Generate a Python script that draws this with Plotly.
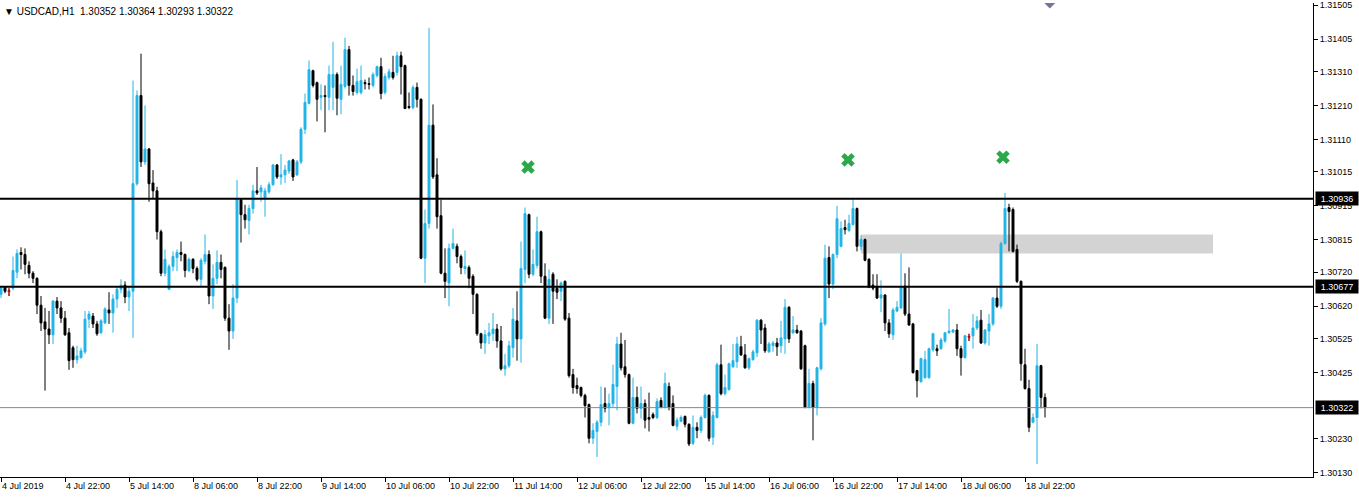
import plotly.graph_objects as go

# ---------------- data (USDCAD H1) ----------------
opens = [
    1.30655, 1.30676, 1.30664, 1.30673, 1.30720, 1.30778, 1.30772, 1.30740, 1.30717, 1.30702,
    1.30623, 1.30574, 1.30553, 1.30536, 1.30635, 1.30615, 1.30585, 1.30542, 1.30498, 1.30463,
    1.30469, 1.30486, 1.30582, 1.30591, 1.30568, 1.30542, 1.30571, 1.30609, 1.30600, 1.30641,
    1.30670, 1.30682, 1.30647, 1.30664, 1.30980, 1.31239, 1.31044, 1.31082, 1.30982, 1.30959,
    1.30839, 1.30717, 1.30670, 1.30737, 1.30763, 1.30778, 1.30772, 1.30725, 1.30758, 1.30731,
    1.30699, 1.30752, 1.30772, 1.30650, 1.30702, 1.30749, 1.30734, 1.30585, 1.30547, 1.30644,
    1.30933, 1.30889, 1.30872, 1.30907, 1.30959, 1.30956, 1.30936, 1.30956, 1.30977, 1.31035,
    1.31000, 1.31006, 1.31017, 1.31050, 1.31006, 1.31044, 1.31140, 1.31216, 1.31312, 1.31277,
    1.31234, 1.31239, 1.31234, 1.31263, 1.31301, 1.31228, 1.31266, 1.31374, 1.31269, 1.31248,
    1.31248, 1.31277, 1.31274, 1.31269, 1.31298, 1.31324, 1.31248, 1.31292, 1.31307, 1.31307,
    1.31356, 1.31327, 1.31207, 1.31204, 1.31263, 1.31228, 1.30761, 1.30863, 1.31152, 1.31006,
    1.30886, 1.30717, 1.30688, 1.30790, 1.30796, 1.30766, 1.30731, 1.30734, 1.30708, 1.30655,
    1.30539, 1.30512, 1.30533, 1.30539, 1.30553, 1.30518, 1.30436, 1.30445, 1.30498, 1.30577,
    1.30524, 1.30728, 1.30889, 1.30714, 1.30740, 1.30839, 1.30708, 1.30585, 1.30714, 1.30673,
    1.30664, 1.30693, 1.30585, 1.30419, 1.30387, 1.30381, 1.30358, 1.30331, 1.30232, 1.30252,
    1.30279, 1.30334, 1.30323, 1.30334, 1.30384, 1.30509, 1.30442, 1.30419, 1.30276, 1.30352,
    1.30320, 1.30334, 1.30293, 1.30302, 1.30293, 1.30343, 1.30323, 1.30384, 1.30334, 1.30267,
    1.30282, 1.30296, 1.30273, 1.30217, 1.30264, 1.30255, 1.30293, 1.30358, 1.30235, 1.30293,
    1.30448, 1.30363, 1.30375, 1.30442, 1.30457, 1.30501, 1.30477, 1.30439, 1.30463, 1.30483,
    1.30579, 1.30556, 1.30486, 1.30504, 1.30512, 1.30504, 1.30524, 1.30617, 1.30542, 1.30550,
    1.30547, 1.30504, 1.30323, 1.30393, 1.30323, 1.30436, 1.30568, 1.30763, 1.30685, 1.30772,
    1.30796, 1.30851, 1.30842, 1.30860, 1.30907, 1.30796, 1.30816, 1.30758, 1.30682, 1.30676,
    1.30644, 1.30653, 1.30571, 1.30536, 1.30606, 1.30615, 1.30679, 1.30597, 1.30568, 1.30431,
    1.30398, 1.30410, 1.30410, 1.30492, 1.30495, 1.30495, 1.30518, 1.30542, 1.30544, 1.30550,
    1.30495, 1.30469, 1.30530, 1.30533, 1.30556, 1.30579, 1.30512, 1.30547, 1.30568, 1.30644,
    1.30620, 1.30804, 1.30910, 1.30904, 1.30787, 1.30693, 1.30448, 1.30378, 1.30279, 1.30293,
    1.30445, 1.30352,
]
highs = [
    1.30679, 1.30679, 1.30673, 1.30766, 1.30787, 1.30793, 1.30790, 1.30752, 1.30723, 1.30705,
    1.30650, 1.30615, 1.30606, 1.30638, 1.30647, 1.30635, 1.30606, 1.30556, 1.30504, 1.30504,
    1.30498, 1.30606, 1.30606, 1.30600, 1.30577, 1.30582, 1.30617, 1.30661, 1.30655, 1.30676,
    1.30699, 1.30693, 1.30676, 1.31283, 1.31254, 1.31362, 1.31210, 1.31085, 1.31020, 1.30971,
    1.30845, 1.30787, 1.30743, 1.30781, 1.30787, 1.30810, 1.30775, 1.30763, 1.30761, 1.30737,
    1.30761, 1.30831, 1.30784, 1.30743, 1.30784, 1.30772, 1.30737, 1.30626, 1.30685, 1.30991,
    1.30936, 1.30918, 1.30918, 1.30977, 1.31029, 1.30977, 1.30968, 1.30985, 1.31038, 1.31038,
    1.31067, 1.31035, 1.31050, 1.31053, 1.31050, 1.31146, 1.31245, 1.31342, 1.31315, 1.31280,
    1.31272, 1.31269, 1.31327, 1.31397, 1.31307, 1.31327, 1.31409, 1.31385, 1.31298, 1.31318,
    1.31327, 1.31286, 1.31292, 1.31307, 1.31327, 1.31350, 1.31304, 1.31318, 1.31356, 1.31368,
    1.31368, 1.31330, 1.31248, 1.31269, 1.31277, 1.31231, 1.30904, 1.31438, 1.31213, 1.31055,
    1.30933, 1.30790, 1.30804, 1.30848, 1.30804, 1.30772, 1.30784, 1.30740, 1.30714, 1.30658,
    1.30542, 1.30550, 1.30571, 1.30600, 1.30568, 1.30562, 1.30480, 1.30518, 1.30615, 1.30664,
    1.30810, 1.30910, 1.30892, 1.30787, 1.30883, 1.30842, 1.30746, 1.30728, 1.30720, 1.30699,
    1.30693, 1.30696, 1.30600, 1.30436, 1.30410, 1.30384, 1.30363, 1.30334, 1.30276, 1.30285,
    1.30384, 1.30381, 1.30363, 1.30448, 1.30530, 1.30542, 1.30521, 1.30422, 1.30410, 1.30384,
    1.30384, 1.30346, 1.30366, 1.30308, 1.30349, 1.30352, 1.30425, 1.30396, 1.30358, 1.30293,
    1.30299, 1.30299, 1.30276, 1.30299, 1.30279, 1.30299, 1.30363, 1.30361, 1.30311, 1.30454,
    1.30507, 1.30419, 1.30454, 1.30509, 1.30530, 1.30533, 1.30509, 1.30469, 1.30492, 1.30582,
    1.30582, 1.30568, 1.30515, 1.30518, 1.30527, 1.30577, 1.30641, 1.30620, 1.30591, 1.30565,
    1.30550, 1.30507, 1.30436, 1.30401, 1.30442, 1.30585, 1.30801, 1.30796, 1.30775, 1.30915,
    1.30869, 1.30874, 1.30889, 1.30936, 1.30910, 1.30828, 1.30819, 1.30761, 1.30714, 1.30714,
    1.30696, 1.30655, 1.30582, 1.30615, 1.30635, 1.30775, 1.30717, 1.30734, 1.30571, 1.30433,
    1.30469, 1.30489, 1.30498, 1.30542, 1.30507, 1.30527, 1.30544, 1.30612, 1.30553, 1.30568,
    1.30504, 1.30536, 1.30539, 1.30597, 1.30591, 1.30609, 1.30553, 1.30597, 1.30647, 1.30673,
    1.30810, 1.30953, 1.30921, 1.30910, 1.30801, 1.30696, 1.30495, 1.30404, 1.30305, 1.30509,
    1.30448, 1.30364,
]
lows = [
    1.30644, 1.30658, 1.30650, 1.30667, 1.30702, 1.30728, 1.30714, 1.30702, 1.30688, 1.30597,
    1.30547, 1.30372, 1.30509, 1.30509, 1.30597, 1.30571, 1.30533, 1.30433, 1.30439, 1.30451,
    1.30466, 1.30480, 1.30556, 1.30556, 1.30533, 1.30539, 1.30568, 1.30568, 1.30542, 1.30615,
    1.30658, 1.30629, 1.30606, 1.30527, 1.30974, 1.31029, 1.31035, 1.30927, 1.30936, 1.30816,
    1.30708, 1.30708, 1.30667, 1.30723, 1.30723, 1.30752, 1.30705, 1.30720, 1.30717, 1.30693,
    1.30679, 1.30743, 1.30626, 1.30612, 1.30685, 1.30702, 1.30577, 1.30492, 1.30524, 1.30629,
    1.30807, 1.30848, 1.30831, 1.30892, 1.30947, 1.30927, 1.30883, 1.30950, 1.30974, 1.30994,
    1.30977, 1.30982, 1.31009, 1.30988, 1.31003, 1.31038, 1.31126, 1.31213, 1.31263, 1.31163,
    1.31196, 1.31131, 1.31196, 1.31196, 1.31181, 1.31184, 1.31260, 1.31239, 1.31239, 1.31242,
    1.31242, 1.31257, 1.31257, 1.31263, 1.31292, 1.31228, 1.31242, 1.31286, 1.31286, 1.31298,
    1.31242, 1.31199, 1.31199, 1.31199, 1.31204, 1.30758, 1.30688, 1.30848, 1.30994, 1.30848,
    1.30714, 1.30644, 1.30620, 1.30787, 1.30746, 1.30714, 1.30714, 1.30673, 1.30597, 1.30533,
    1.30495, 1.30480, 1.30509, 1.30518, 1.30498, 1.30431, 1.30416, 1.30439, 1.30469, 1.30460,
    1.30454, 1.30688, 1.30702, 1.30708, 1.30731, 1.30688, 1.30582, 1.30568, 1.30568, 1.30641,
    1.30635, 1.30577, 1.30410, 1.30363, 1.30363, 1.30352, 1.30293, 1.30217, 1.30215, 1.30177,
    1.30267, 1.30308, 1.30270, 1.30323, 1.30314, 1.30431, 1.30410, 1.30273, 1.30273, 1.30305,
    1.30290, 1.30261, 1.30252, 1.30288, 1.30288, 1.30320, 1.30320, 1.30314, 1.30267, 1.30255,
    1.30279, 1.30264, 1.30209, 1.30212, 1.30232, 1.30247, 1.30290, 1.30223, 1.30212, 1.30290,
    1.30358, 1.30358, 1.30372, 1.30439, 1.30439, 1.30474, 1.30436, 1.30433, 1.30460, 1.30471,
    1.30509, 1.30483, 1.30483, 1.30486, 1.30474, 1.30483, 1.30480, 1.30512, 1.30539, 1.30539,
    1.30433, 1.30320, 1.30320, 1.30226, 1.30299, 1.30431, 1.30562, 1.30644, 1.30670, 1.30761,
    1.30793, 1.30831, 1.30839, 1.30857, 1.30781, 1.30784, 1.30752, 1.30673, 1.30667, 1.30641,
    1.30603, 1.30547, 1.30527, 1.30521, 1.30603, 1.30612, 1.30591, 1.30562, 1.30422, 1.30352,
    1.30396, 1.30407, 1.30407, 1.30486, 1.30474, 1.30492, 1.30512, 1.30539, 1.30542, 1.30474,
    1.30416, 1.30466, 1.30518, 1.30495, 1.30550, 1.30509, 1.30507, 1.30504, 1.30562, 1.30615,
    1.30612, 1.30801, 1.30781, 1.30778, 1.30688, 1.30401, 1.30375, 1.30250, 1.30276, 1.30156,
    1.30320, 1.30293,
]
closes = [
    1.30673, 1.30664, 1.30664, 1.30725, 1.30775, 1.30772, 1.30743, 1.30717, 1.30702, 1.30623,
    1.30571, 1.30553, 1.30536, 1.30635, 1.30615, 1.30585, 1.30536, 1.30460, 1.30463, 1.30474,
    1.30489, 1.30582, 1.30597, 1.30568, 1.30539, 1.30577, 1.30612, 1.30600, 1.30641, 1.30670,
    1.30682, 1.30647, 1.30664, 1.30980, 1.31239, 1.31044, 1.31082, 1.30980, 1.30959, 1.30839,
    1.30717, 1.30758, 1.30737, 1.30766, 1.30778, 1.30772, 1.30725, 1.30758, 1.30731, 1.30699,
    1.30755, 1.30772, 1.30650, 1.30702, 1.30749, 1.30728, 1.30585, 1.30547, 1.30644, 1.30936,
    1.30889, 1.30874, 1.30907, 1.30959, 1.30953, 1.30968, 1.30959, 1.30977, 1.31035, 1.31000,
    1.31006, 1.31020, 1.31047, 1.31000, 1.31044, 1.31140, 1.31219, 1.31315, 1.31269, 1.31228,
    1.31239, 1.31236, 1.31301, 1.31301, 1.31231, 1.31272, 1.31374, 1.31269, 1.31251, 1.31280,
    1.31283, 1.31274, 1.31272, 1.31301, 1.31324, 1.31245, 1.31295, 1.31309, 1.31292, 1.31356,
    1.31324, 1.31201, 1.31204, 1.31263, 1.31228, 1.30761, 1.30863, 1.31152, 1.31000, 1.30883,
    1.30717, 1.30693, 1.30790, 1.30804, 1.30766, 1.30734, 1.30737, 1.30702, 1.30655, 1.30539,
    1.30512, 1.30536, 1.30542, 1.30553, 1.30518, 1.30436, 1.30445, 1.30504, 1.30582, 1.30524,
    1.30731, 1.30892, 1.30714, 1.30743, 1.30839, 1.30708, 1.30585, 1.30699, 1.30664, 1.30661,
    1.30688, 1.30582, 1.30416, 1.30381, 1.30378, 1.30358, 1.30328, 1.30232, 1.30255, 1.30279,
    1.30331, 1.30320, 1.30334, 1.30390, 1.30509, 1.30439, 1.30419, 1.30276, 1.30352, 1.30320,
    1.30334, 1.30285, 1.30288, 1.30293, 1.30340, 1.30323, 1.30393, 1.30323, 1.30270, 1.30285,
    1.30293, 1.30273, 1.30215, 1.30264, 1.30255, 1.30293, 1.30358, 1.30232, 1.30299, 1.30448,
    1.30363, 1.30381, 1.30451, 1.30460, 1.30509, 1.30477, 1.30439, 1.30466, 1.30486, 1.30579,
    1.30550, 1.30489, 1.30509, 1.30512, 1.30501, 1.30527, 1.30617, 1.30524, 1.30550, 1.30542,
    1.30436, 1.30323, 1.30393, 1.30323, 1.30439, 1.30571, 1.30761, 1.30685, 1.30772, 1.30877,
    1.30848, 1.30845, 1.30863, 1.30907, 1.30796, 1.30816, 1.30755, 1.30676, 1.30673, 1.30644,
    1.30653, 1.30571, 1.30539, 1.30609, 1.30617, 1.30679, 1.30597, 1.30565, 1.30425, 1.30401,
    1.30466, 1.30463, 1.30495, 1.30539, 1.30489, 1.30521, 1.30542, 1.30547, 1.30550, 1.30495,
    1.30469, 1.30533, 1.30530, 1.30556, 1.30577, 1.30512, 1.30550, 1.30568, 1.30644, 1.30620,
    1.30804, 1.30907, 1.30898, 1.30781, 1.30693, 1.30451, 1.30378, 1.30264, 1.30293, 1.30445,
    1.30352, 1.30322,
]
bars = list(range(len(opens)))

# time-axis labels (one every 16 hourly bars)
tick_bars = [0, 16, 32, 48, 64, 80, 96, 112, 128, 144, 160, 176, 192, 208, 224, 240, 256]
tick_labels = ["4 Jul 2019", "4 Jul 22:00", "5 Jul 14:00", "8 Jul 06:00", "8 Jul 22:00",
               "9 Jul 14:00", "10 Jul 06:00", "10 Jul 22:00", "11 Jul 14:00", "12 Jul 06:00",
               "12 Jul 22:00", "15 Jul 14:00", "16 Jul 06:00", "16 Jul 22:00", "17 Jul 14:00",
               "18 Jul 06:00", "18 Jul 22:00"]
price_ticks = [1.31505, 1.31405, 1.31310, 1.31210, 1.31110, 1.31015, 1.30915, 1.30815,
               1.30720, 1.30620, 1.30525, 1.30425, 1.30230, 1.30130]

# drawn objects
level_lines = [1.30936, 1.30677]
bid_price = 1.30322
zone_bars = [215, 303]
zone_prices = [1.30775, 1.30831]
cross_bars = [131.75, 211.75, 250.5]
cross_prices = [1.31029, 1.31050, 1.31058]
marker_bar = [262.2]
marker_price = [1.31516]
header = "USDCAD,H1\u00a0\u00a01.30352 1.30364 1.30293 1.30322"

BULL = "#22B4E6"
FONT = "Liberation Sans"

fig = go.Figure()

fig.add_trace(go.Candlestick(
    x=bars, open=opens, high=highs, low=lows, close=closes,
    increasing=dict(line=dict(color=BULL, width=1), fillcolor=BULL),
    decreasing=dict(line=dict(color="black", width=1), fillcolor="black"),
    whiskerwidth=0, hoverinfo="skip", showlegend=False,
))

# doji bars drawn in red
dx, dy = [], []
for i, (o, h, l, c) in enumerate(zip(opens, highs, lows, closes)):
    if o == c:
        dx += [i, i, None, i - 0.4, i + 0.4, None]
        dy += [l, h, None, o, o, None]
fig.add_trace(go.Scatter(x=dx, y=dy, mode="lines", line=dict(color="red", width=1),
                         hoverinfo="skip", showlegend=False))

fig.add_trace(go.Scatter(
    x=cross_bars, y=cross_prices, mode="markers",
    marker=dict(symbol="x", size=12, color="#2BA84A", line=dict(width=0)),
    hoverinfo="skip", showlegend=False))

fig.add_trace(go.Scatter(
    x=marker_bar, y=marker_price, mode="markers",
    marker=dict(symbol="diamond", size=11, color="#72769A", line=dict(width=0)),
    hoverinfo="skip", showlegend=False))

fig.add_shape(type="rect", xref="x", yref="y", x0=zone_bars[0], x1=zone_bars[1],
              y0=zone_prices[0], y1=zone_prices[1], fillcolor="#D3D3D3",
              line=dict(width=0), layer="below")
for lv in level_lines:
    fig.add_shape(type="line", xref="paper", yref="y", x0=0, x1=1, y0=lv, y1=lv,
                  line=dict(color="black", width=2), layer="above")
fig.add_shape(type="line", xref="paper", yref="y", x0=0, x1=1, y0=bid_price, y1=bid_price,
              line=dict(color="#7C8A96", width=1), layer="above")

for lv in level_lines + [bid_price]:
    fig.add_annotation(xref="paper", yref="y", x=1, y=lv, xanchor="left", yanchor="middle",
                       xshift=2, text=f"{lv:.5f}", showarrow=False, bgcolor="black",
                       width=40, height=11, align="center", borderpad=1,
                       font=dict(family=FONT, size=9, color="white"))

fig.add_annotation(xref="paper", yref="paper", x=0, y=1, xanchor="left", yanchor="top",
                   xshift=2, yshift=-1, text="\u25BC " + header, showarrow=False,
                   font=dict(family=FONT, size=10, color="black"))

fig.update_layout(
    width=1359, height=498,
    margin=dict(l=0, r=46, t=0, b=21),
    paper_bgcolor="white", plot_bgcolor="white",
    showlegend=False,
    boxgap=0.3, boxgroupgap=0.3,
    font=dict(family=FONT, size=9, color="black"),
    xaxis=dict(
        range=[-0.25, 328.0], showgrid=False, zeroline=False,
        showline=True, linecolor="black", linewidth=1,
        ticks="outside", ticklen=4, tickcolor="black",
        tickvals=tick_bars, ticktext=tick_labels,
        ticklabelposition="outside right",
        tickfont=dict(family=FONT, size=9, color="black"),
        rangeslider=dict(visible=False), fixedrange=True,
    ),
    yaxis=dict(
        side="right", range=[1.3011816, 1.31511], showgrid=False, zeroline=False,
        showline=True, linecolor="black", linewidth=1,
        ticks="outside", ticklen=4, tickcolor="black",
        tickvals=price_ticks, ticktext=[f"{p:.5f}" for p in price_ticks],
        ticklabeloverflow="allow",
        tickfont=dict(family=FONT, size=9, color="black"), fixedrange=True,
    ),
)

fig.write_html("out.html", config={"displayModeBar": False},
               post_script="document.body.style.margin='0';document.body.style.padding='0';")
